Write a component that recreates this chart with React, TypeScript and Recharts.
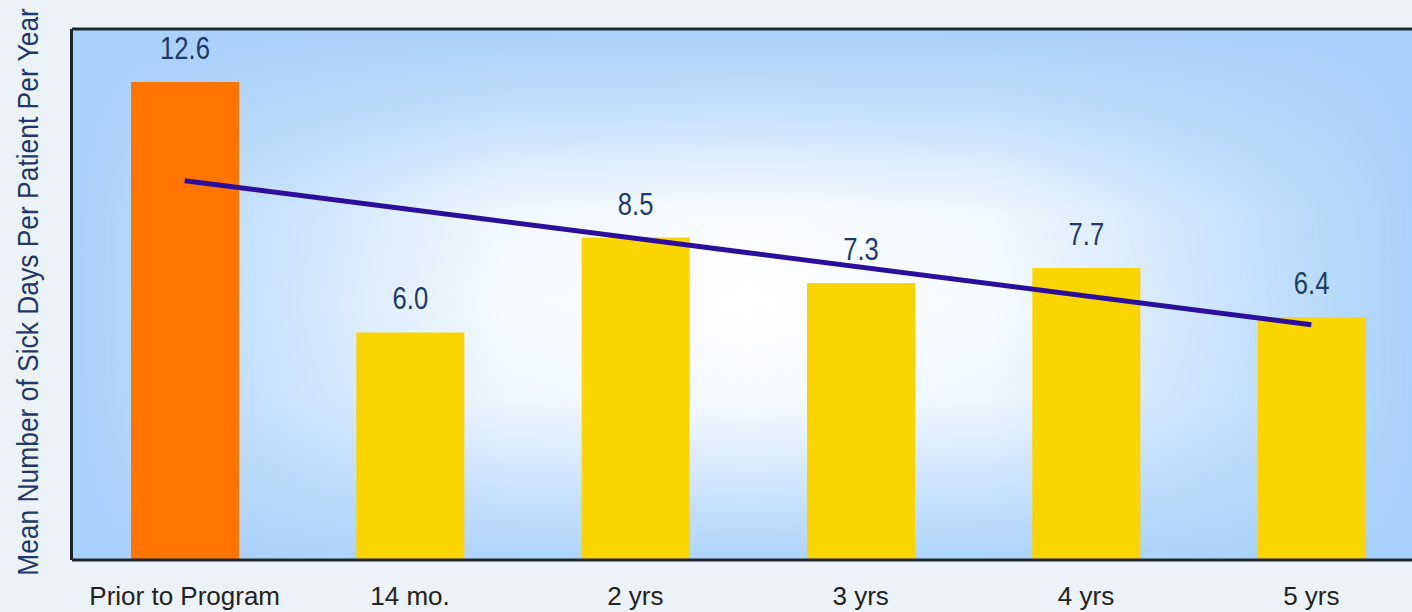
import React from 'react'
import {
  ComposedChart, Bar, Line, Cell, XAxis, YAxis, LabelList,
  ReferenceArea, ReferenceLine,
} from 'recharts'

// ── Data ─────────────────────────────────────────────────────────────────────
const categories = ['Prior to Program', '14 mo.', '2 yrs', '3 yrs', '4 yrs', '5 yrs']
const sickDays = [12.6, 6.0, 8.5, 7.3, 7.7, 6.4]
// trend line: only its two ends are read, the rest is bridged
const trend = [10.0, null, null, null, null, 6.2]

// ── Palette ──────────────────────────────────────────────────────────────────
const C = {
  page:   '#edf2f6',
  edge:   '#a9d1fb',
  orange: '#ff7500',
  yellow: '#fad500',
  trend:  '#2b0f9c',
  value:  '#1d3a6c',
  tick:   '#222222',
  border: '#1e2630',
}
const FONT = '"Liberation Sans", Arial, sans-serif'

const data = categories.map((name, i) => ({ name, value: sickDays[i], trend: trend[i] }))

// ── Plot background: white centre fading to light blue at the edges ─────────
function PlotBackground(props: any) {
  const { x, y, width, height } = props
  return (
    <g>
      <defs>
        <linearGradient id="bgH" x1="0" y1="0" x2="1" y2="0">
          <stop offset="0" stopColor="#000" />
          <stop offset="0.12" stopColor="#555" />
          <stop offset="0.32" stopColor="#e4e4e4" />
          <stop offset="0.5" stopColor="#fff" />
          <stop offset="0.68" stopColor="#e4e4e4" />
          <stop offset="0.88" stopColor="#555" />
          <stop offset="1" stopColor="#000" />
        </linearGradient>
        <linearGradient id="bgV" x1="0" y1="0" x2="0" y2="1">
          <stop offset="0" stopColor="#000" />
          <stop offset="0.15" stopColor="#555" />
          <stop offset="0.35" stopColor="#eee" />
          <stop offset="0.52" stopColor="#fff" />
          <stop offset="0.7" stopColor="#e4e4e4" />
          <stop offset="0.9" stopColor="#555" />
          <stop offset="1" stopColor="#111" />
        </linearGradient>
        <mask id="maskH" maskUnits="userSpaceOnUse" x={x} y={y} width={width} height={height}>
          <rect x={x} y={y} width={width} height={height} fill="url(#bgH)" />
        </mask>
        <mask id="maskV" maskUnits="userSpaceOnUse" x={x} y={y} width={width} height={height}>
          <rect x={x} y={y} width={width} height={height} fill="url(#bgV)" />
        </mask>
      </defs>
      <rect x={x} y={y} width={width} height={height} fill={C.edge} />
      <g mask="url(#maskH)">
        <rect x={x} y={y} width={width} height={height} fill="#fff" mask="url(#maskV)" />
      </g>
      {/* left frame edge */}
      <line x1={x - 0.5} y1={y} x2={x - 0.5} y2={y + height} stroke={C.border} strokeWidth={3} />
    </g>
  )
}

// ── Value labels above the bars (narrow face, so squeezed horizontally) ─────
function ValueLabel(props: any) {
  const { x, y, width, value } = props
  const cx = Number(x) + Number(width) / 2
  return (
    <text
      transform={`translate(${cx},${Number(y) - 23}) scale(0.8,1)`}
      textAnchor="middle"
      fontFamily={FONT}
      fontSize={32}
      fill={C.value}
    >
      {Number(value).toFixed(1)}
    </text>
  )
}

function CategoryTick(props: any) {
  const { x, y, payload } = props
  return (
    <text x={x} y={Number(y) + 37} textAnchor="middle" fontFamily={FONT} fontSize={26} fill={C.tick}>
      {payload.value}
    </text>
  )
}

export default function App() {
  return (
    <div style={{
      position: 'fixed', left: 0, top: 0, width: 1412, height: 612,
      overflow: 'hidden', background: C.page,
    }}>
      <div style={{ position: 'absolute', left: 0, top: 0 }}>
        <ComposedChart
          width={1430}
          height={640}
          data={data}
          margin={{ top: 29, right: 6, left: 72, bottom: 0 }}
        >
          <XAxis
            dataKey="name"
            height={80}
            tickLine={false}
            axisLine={{ stroke: C.border, strokeWidth: 3 }}
            tick={<CategoryTick />}
            interval={0}
          />
          <YAxis
            domain={[0, 14]}
            width={0}
            tick={false}
            tickLine={false}
            axisLine={false}
          />
          <ReferenceArea y1={0} y2={14} shape={<PlotBackground />} zIndex={-100} ifOverflow="visible" />
          <ReferenceLine y={14} stroke={C.border} strokeWidth={3} />
          <Bar dataKey="value" barSize={108} fill={C.yellow} isAnimationActive={false}>
            {data.map((d, i) => (
              <Cell key={d.name} fill={i === 0 ? C.orange : C.yellow} />
            ))}
            <LabelList dataKey="value" content={<ValueLabel />} />
          </Bar>
          <Line
            dataKey="trend"
            type="linear"
            stroke={C.trend}
            strokeWidth={5}
            dot={false}
            activeDot={false}
            connectNulls
            isAnimationActive={false}
          />
        </ComposedChart>
      </div>
      <svg width={60} height={612} style={{ position: 'absolute', left: 0, top: 0 }}>
        <text
          transform="translate(27,292) rotate(-90) scale(0.88,1)"
          textAnchor="middle"
          dominantBaseline="central"
          fontFamily={FONT}
          fontSize={30}
          fill={C.value}
        >
          Mean Number of Sick Days Per Patient Per Year
        </text>
      </svg>
    </div>
  )
}
